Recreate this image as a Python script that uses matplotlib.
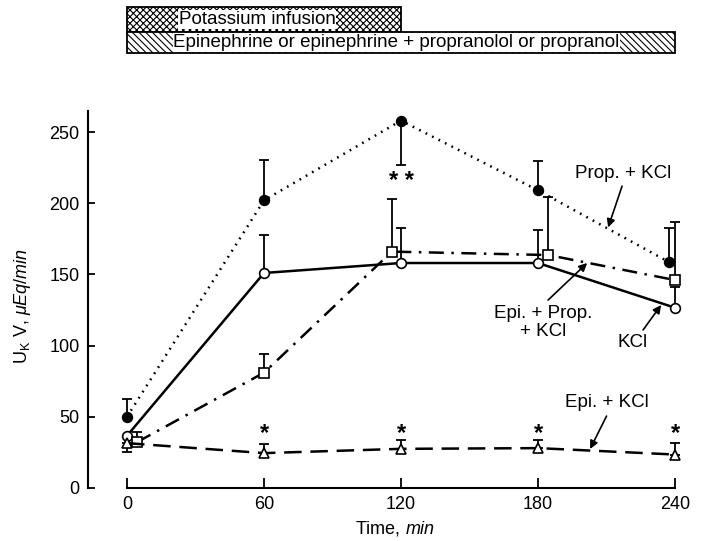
import matplotlib
matplotlib.use("Agg")
import matplotlib.pyplot as plt
from matplotlib.patches import Rectangle

plt.rcParams["font.family"] = ["Liberation Sans", "DejaVu Sans"]
plt.rcParams["mathtext.fontset"] = "custom"
plt.rcParams["mathtext.rm"] = "Liberation Sans"
plt.rcParams["mathtext.it"] = "Liberation Sans:italic"
plt.rcParams["hatch.linewidth"] = 0.8

# Prop. + KCl (filled circles, dotted)
prop_t = [0, 60, 120, 180, 237.5]
prop_v = [50, 202, 258, 209, 158.5]
prop_lo = [0, 0, 31, 0, 0]
prop_hi = [12.5, 28, 0, 20.5, 24]

# KCl (open circles, solid)
kcl_t = [0, 60, 120, 180, 240]
kcl_v = [36.7, 151, 158, 158, 126.6]
kcl_lo = [0, 0, 0, 0, 0]
kcl_hi = [0, 27, 24.6, 23, 14.5]

# Epi. + Prop. + KCl (open squares, dash-dot)
epp_t = [4.5, 60, 116, 184.5, 240]
epp_v = [32.3, 81, 166, 163.6, 146]
epp_lo = [0, 0, 0, 0, 0]
epp_hi = [6.7, 13, 37, 41, 41]

# Epi. + KCl (open triangles, dashed)
ek_t = [0, 60, 120, 180, 240]
ek_v = [31.5, 24.5, 27.5, 28, 23.5]
ek_lo = [6, 0, 0, 0, 0]
ek_hi = [0, 6.5, 6.5, 6, 8]

star1_t = [60, 120, 180, 240]
star2_t = [120]

# infusion periods (min)
bars = [("Potassium infusion", 0, 120, "xxxxx", 320, 338, 57),
        ("Epinephrine or epinephrine + propranolol or propranol", 0, 240, "\\\\\\\\\\", 305.5, 320, 118)]

fig = plt.figure(figsize=(7.02, 5.41), dpi=100)
ax = fig.add_axes([88 / 702, 53 / 541, 614 / 702, 488 / 541])
ax.set_xlim(-17.08, 251.8)
ax.set_ylim(0, 342.7)

def series(t, v, lo, hi, marker, face, ls, dashes=None):
    ax.errorbar(t, v, yerr=[lo, hi], fmt="none", ecolor="black", elinewidth=1.3,
                capsize=3.5, capthick=1.3, zorder=2)
    line, = ax.plot(t, v, color="black", ls=ls, lw=1.8, marker=marker, markersize=7,
                    markerfacecolor=face, markeredgecolor="black", markeredgewidth=1.2, zorder=3)
    if dashes:
        line.set_dashes(dashes)

series(prop_t, prop_v, prop_lo, prop_hi, "o", "black", ":", [0.7, 2.2])
series(kcl_t, kcl_v, kcl_lo, kcl_hi, "o", "white", "-")
series(epp_t, epp_v, epp_lo, epp_hi, "s", "white", "-.", [6, 3, 1, 3])
series(ek_t, ek_v, ek_lo, ek_hi, "^", "white", "--", [7, 3.5])

for t in star1_t:
    ax.text(t, 38, "*", ha="center", va="center", fontsize=17, fontweight="bold")
for t in star2_t:
    ax.text(t, 215, "* *", ha="center", va="center", fontsize=17, fontweight="bold")

for label, t0, t1, hatch, y0, y1, tx in bars:
    ax.add_patch(Rectangle((t0, y0), t1 - t0, y1 - y0, facecolor="white", edgecolor="black",
                           hatch=hatch, lw=1.3, clip_on=False))
    ax.text(tx, (y0 + y1) / 2, label, ha="center", va="center", fontsize=13.5,
            bbox=dict(facecolor="white", edgecolor="none", pad=0.5))

arrow = dict(arrowstyle="-|>", color="black", lw=1.2, mutation_scale=12, shrinkA=0, shrinkB=0)
ax.text(217.2, 221, "Prop. + KCl", ha="center", va="center", fontsize=13.5)
ax.annotate("", xy=(210.7, 183), xytext=(216.8, 212), arrowprops=arrow)
ax.text(182.2, 116, "Epi. + Prop.\n+ KCl", ha="center", va="center", fontsize=13.5, linespacing=1.1)
ax.annotate("", xy=(201.5, 158), xytext=(184.4, 132), arrowprops=arrow)
ax.text(221.6, 102.5, "KCl", ha="center", va="center", fontsize=13.5)
ax.annotate("", xy=(233.9, 128.5), xytext=(226, 111), arrowprops=arrow)
ax.text(210, 59.7, "Epi. + KCl", ha="center", va="center", fontsize=13.5)
ax.annotate("", xy=(202.8, 27.4), xytext=(210, 50.5), arrowprops=arrow)

ax.spines["top"].set_visible(False)
ax.spines["right"].set_visible(False)
ax.spines["left"].set_bounds(0, 265)
ax.spines["bottom"].set_bounds(0, 240)
ax.spines["left"].set_linewidth(1.5)
ax.spines["bottom"].set_linewidth(1.5)
ax.set_xticks([0, 60, 120, 180, 240])
ax.set_yticks([0, 50, 100, 150, 200, 250])
ax.tick_params(axis="x", direction="in", length=7, width=1.3, labelsize=13, pad=6)
ax.tick_params(axis="y", direction="in", length=5, width=1.3, labelsize=13, pad=6)
ax.set_xlabel(r"Time, $\mathit{min}$", fontsize=13)
ax.set_ylabel(r"U$_\mathregular{K}$ V, $\mathit{\mu Eq/min}$", fontsize=13)
ax.xaxis.set_label_coords(0.5, -0.064)
ax.yaxis.set_label_coords(-0.09, 0.373)

fig.savefig("out.png", dpi=100)
